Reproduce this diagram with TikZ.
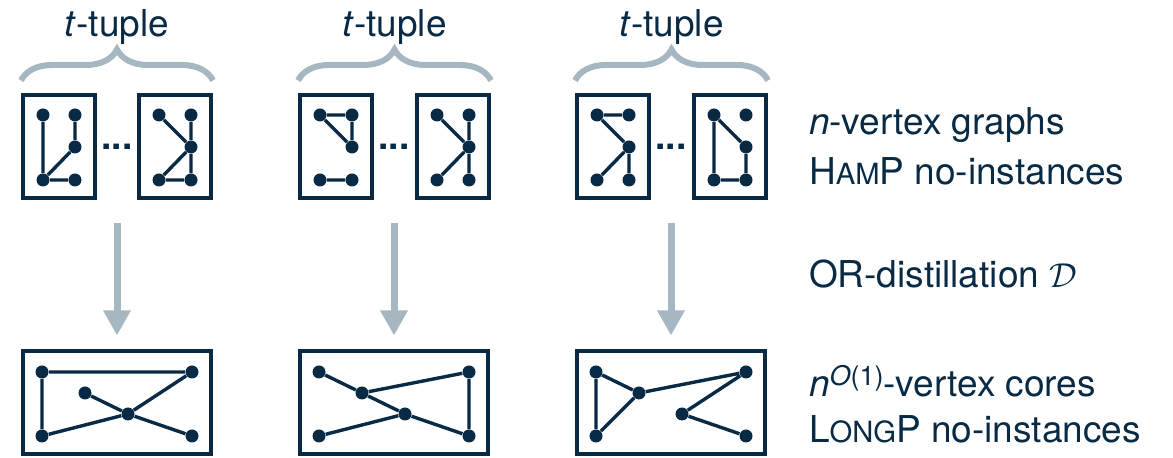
\documentclass[tikz,border=0pt]{standalone}
\usepackage{fontspec}
\setmainfont{TeX Gyre Heros}
\usepackage{tikz}
\usetikzlibrary{calc, arrows.meta, decorations.pathreplacing}

\definecolor{navy}{RGB}{8,42,68}
\definecolor{haze}{RGB}{167,183,194}

\tikzset{
    gbox/.style={draw=navy, line width=2pt, inner sep=0pt},
    vtx/.style={circle, fill=navy, inner sep=0pt, minimum size=6.5pt},
    link/.style={draw=navy, line width=1.7pt},
    bracket/.style={draw=haze, line width=3pt, decorate,
        decoration={brace, amplitude=15.5pt}},
    flow/.style={draw=haze, line width=3.5pt,
        -{Triangle[width=13pt, length=12.5pt]}},
    lbl/.style={text=navy, font=\fontsize{18.5}{22}\selectfont},
    sidetext/.style={text=navy, anchor=base west, font=\fontsize{18.5}{22}\selectfont},
}

% small box with five vertices: lt, rt, rm, lb, rb
\newcommand{\tuplegraph}[2]{%
    \node[gbox, minimum width=36pt, minimum height=51.5pt] (#1) at (#2) {};
    \node[vtx] (#1lt) at ($(#1)+(-16,-32)$) {};
    \node[vtx] (#1rt) at ($(#1)+(16,-32)$) {};
    \node[vtx] (#1rm) at ($(#1)+(16,0)$) {};
    \node[vtx] (#1lb) at ($(#1)+(-16,33)$) {};
    \node[vtx] (#1rb) at ($(#1)+(16,33)$) {};
}
% wide box with six vertices a..f
\newcommand{\coregraph}[2]{%
    \node[gbox, minimum width=94pt, minimum height=51.5pt] (#1) at (#2) {};
    \node[vtx] (#1a) at ($(#1)+(-75,-31)$) {};
    \node[vtx] (#1b) at ($(#1)+(75,-31)$) {};
    \node[vtx] (#1c) at ($(#1)+(-32,-10)$) {};
    \node[vtx] (#1d) at ($(#1)+(11,11)$) {};
    \node[vtx] (#1e) at ($(#1)+(-75,33)$) {};
    \node[vtx] (#1f) at ($(#1)+(75,33)$) {};
}
\newcommand{\smcaps}[1]{{\fontsize{14.6}{17}\selectfont #1}}

\begin{document}
\begin{tikzpicture}[x=0.5pt, y=-0.5pt]
    \useasboundingbox (0,0) rectangle (1173,458);

    % first tuple
    \tuplegraph{A}{59,147}
    \tuplegraph{B}{175,147}
    \draw[link] (Alt) -- (Alb) (Art) -- (Arm) (Arm) -- (Alb) (Alb) -- (Arb);
    \draw[link] (Blt) -- (Brm) (Brt) -- (Brm) (Brm) -- (Brb) (Brm) -- (Blb) (Blb) -- (Brb);
    \node[lbl, anchor=base] (dotsA) at (117,150) {\textbf{...}};

    % second tuple
    \tuplegraph{C}{336,147}
    \tuplegraph{D}{453,147}
    \draw[link] (Clt) -- (Crt) (Crt) -- (Crm) (Clt) -- (Crm) (Clb) -- (Crb);
    \draw[link] (Dlt) -- (Drm) (Drt) -- (Drm) (Drm) -- (Drb) (Drm) -- (Dlb);
    \node[lbl, anchor=base] (dotsC) at (394,150) {\textbf{...}};

    % third tuple
    \tuplegraph{E}{613,147}
    \tuplegraph{F}{730,147}
    \draw[link] (Elt) -- (Ert) (Elt) -- (Erm) (Erm) -- (Elb) (Erm) -- (Erb);
    \draw[link] (Flt) -- (Frm) (Flt) -- (Flb) (Frm) -- (Frb) (Flb) -- (Frb);
    \node[lbl, anchor=base] (dotsE) at (671,150) {\textbf{...}};

    % braces
    \draw[bracket] ($(A.north west)+(0,-13)$) -- ($(B.north east)+(0,-13)$)
        node[lbl, midway, anchor=base, yshift=22pt] {\textit{t}-tuple};
    \draw[bracket] ($(C.north west)+(0,-13)$) -- ($(D.north east)+(0,-13)$)
        node[lbl, midway, anchor=base, yshift=22pt] {\textit{t}-tuple};
    \draw[bracket] ($(E.north west)+(0,-13)$) -- ($(F.north east)+(0,-13)$)
        node[lbl, midway, anchor=base, yshift=22pt] {\textit{t}-tuple};

    % cores
    \coregraph{X}{117,403}
    \coregraph{Y}{394,403}
    \coregraph{Z}{671,403}
    \draw[link] (Xa) -- (Xb) (Xa) -- (Xe) (Xb) -- (Xd) (Xd) -- (Xe) (Xc) -- (Xd) (Xd) -- (Xf);
    \draw[link] (Ya) -- (Yc) (Yc) -- (Yd) (Yd) -- (Yf) (Yc) -- (Yb) (Yb) -- (Yf) (Ye) -- (Yd);
    \draw[link] (Za) -- (Ze) (Za) -- (Zc) (Zc) -- (Ze) (Zc) -- (Zb) (Zb) -- (Zd) (Zd) -- (Zf);

    % distillation arrows
    \draw[flow, shorten <=11.5pt, shorten >=7pt] (A.south -| X.north) -- (X.north);
    \draw[flow, shorten <=11.5pt, shorten >=7pt] (C.south -| Y.north) -- (Y.north);
    \draw[flow, shorten <=11.5pt, shorten >=7pt] (E.south -| Z.north) -- (Z.north);

    % captions
    \node[sidetext] (side1) at (802,135) {\textit{n}-vertex graphs};
    \node[sidetext] (side2) at (802,185) {H\smcaps{AM}P no-instances};
    \node[sidetext] (side3) at (802,288) {OR-distillation $\mathcal{D}$};
    \node[sidetext] (side4) at (802,397)
        {\textit{n}\raisebox{5.5pt}{\fontsize{13.5}{16}\selectfont\textit{O}(1)}-vertex cores};
    \node[sidetext] (side5) at (802,443) {L\smcaps{ONG}P no-instances};
\end{tikzpicture}
\end{document}
